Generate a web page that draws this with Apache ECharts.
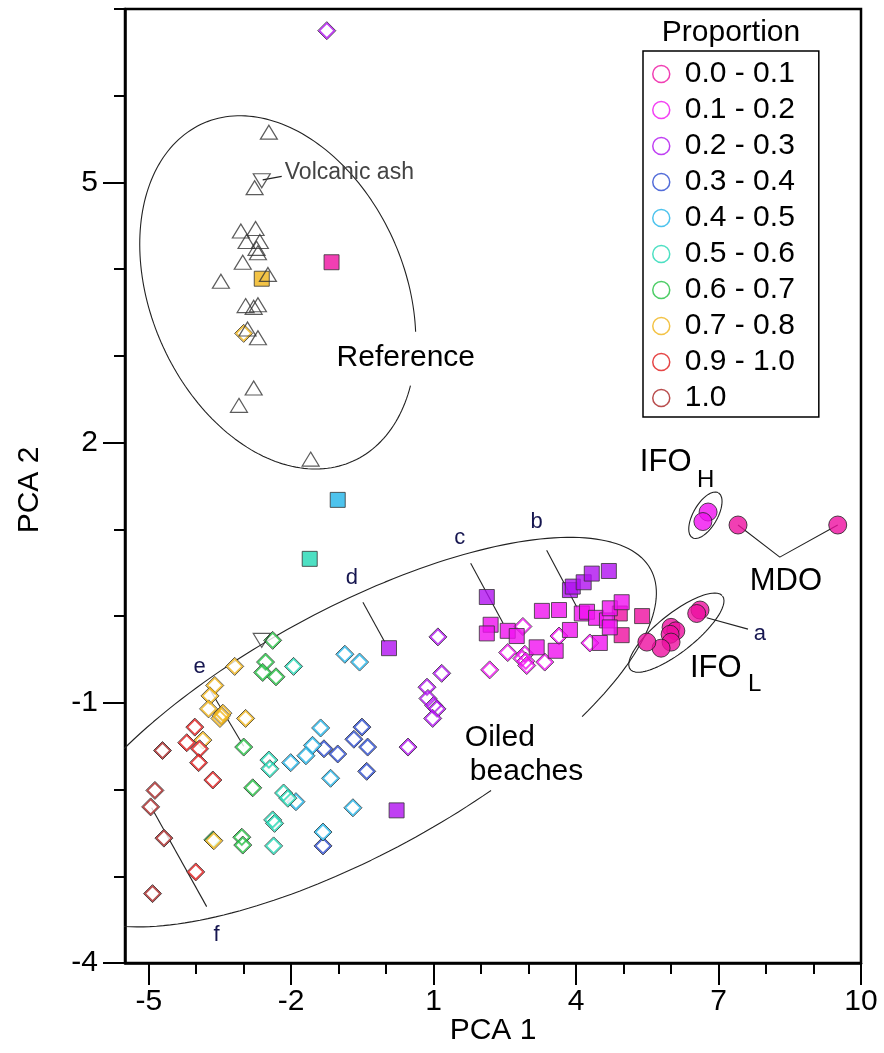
<!DOCTYPE html>
<html><head><meta charset="utf-8">
<script src="https://cdn.jsdelivr.net/npm/echarts@6/dist/echarts.min.js"></script>
<style>html,body{margin:0;padding:0;background:#fff}#c{width:884px;height:1053px}</style>
</head><body><div id="c"></div>
<script>
// ---------- tick values ----------
const xMajorTicks = [-5, -2, 1, 4, 7, 10];
const xMinorTicks = [-4, -3, -1, 0, 2, 3, 5, 6, 8, 9];
const yMajorTicks = [-4, -1, 2, 5];
const yMinorTicks = [-3, -2, 0, 1, 3, 4, 6, 7];

// ---------- proportion classes ----------
const classNames = ['0.0 - 0.1','0.1 - 0.2','0.2 - 0.3','0.3 - 0.4','0.4 - 0.5','0.5 - 0.6','0.6 - 0.7','0.7 - 0.8','0.9 - 1.0','1.0'];
const classColors = ['#EE0FA0','#F010F0','#B010F0','#2848D0','#20B4E8','#20D8B4','#20C040','#F0B418','#E01818','#A82020'];

// ---------- data (PCA1, PCA2) ----------
const circles_c0 = [[7.41,1.05],[9.51,1.05],[6.61,0.07],[6.54,0.03],[6.00,-0.13],[6.10,-0.17],[5.98,-0.21],[6.00,-0.30],[5.79,-0.37],[5.49,-0.30]];
const squares_c0 = [[-1.15,4.08],[4.92,0.03],[4.96,-0.22],[5.39,0.00]];
const circles_c1 = [[6.78,1.20],[6.67,1.09]];
const squares_c1 = [[2.20,-0.10],[2.12,-0.20],[2.56,-0.17],[2.75,-0.23],[3.28,0.06],[3.64,0.07],[4.12,0.03],[4.23,0.05],[4.42,-0.02],[4.65,-0.05],[4.71,0.09],[4.96,0.16],[3.87,-0.16],[3.17,-0.36],[3.57,-0.40],[4.50,-0.31],[4.71,-0.13]];
const diamonds_c1 = [[2.88,-0.12],[2.56,-0.42],[2.92,-0.44],[2.86,-0.49],[2.94,-0.52],[2.96,-0.57],[3.34,-0.53],[3.64,-0.23],[2.18,-0.62],[4.29,-0.31]];
const squares_c2 = [[2.12,0.22],[3.87,0.30],[3.93,0.34],[4.16,0.39],[4.33,0.49],[4.69,0.52],[0.06,-0.37],[0.22,-2.24]];
const diamonds_c2 = [[-1.25,6.75],[1.09,-0.24],[1.17,-0.66],[0.86,-0.82],[0.88,-0.95],[1.00,-1.03],[1.07,-1.07],[0.98,-1.18],[0.46,-1.51]];
const diamonds_c3 = [[-0.51,-1.28],[-0.68,-1.42],[-0.39,-1.51],[-1.31,-1.53],[-1.02,-1.59],[-0.41,-1.79],[-1.33,-2.65]];
const diamonds_c4 = [[-0.87,-0.44],[-0.56,-0.53],[-1.38,-1.29],[-1.55,-1.49],[-1.69,-1.61],[-2.01,-1.69],[-1.17,-1.87],[-1.90,-2.14],[-0.70,-2.21],[-1.33,-2.49]];
const squares_c4 = [[-1.02,1.34]];
const diamonds_c5 = [[-1.95,-0.58],[-2.47,-1.66],[-2.45,-1.76],[-2.16,-2.04],[-2.07,-2.10],[-2.39,-2.35],[-2.35,-2.39],[-2.37,-2.65]];
const squares_c5 = [[-1.61,0.66]];
const diamonds_c6 = [[-2.39,-0.28],[-2.54,-0.53],[-2.60,-0.65],[-2.32,-0.70],[-3.00,-1.51],[-2.81,-1.98],[-3.65,-2.58],[-3.04,-2.55],[-3.02,-2.64]];
const diamonds_c7 = [[-3.19,-0.58],[-3.61,-0.80],[-3.71,-0.92],[-3.74,-1.07],[-3.50,-1.18],[-3.44,-1.12],[-3.47,-1.15],[-2.96,-1.18],[-3.86,-1.43],[-3.63,-2.59],[-3.00,3.26]];
const squares_c7 = [[-2.62,3.89]];
const diamonds_c8 = [[-4.03,-1.28],[-4.20,-1.46],[-3.93,-1.53],[-3.95,-1.69],[-3.65,-1.89],[-4.01,-2.95]];
const diamonds_c9 = [[-4.71,-1.55],[-4.87,-2.01],[-4.96,-2.20],[-4.68,-2.56],[-4.92,-3.20]];
const refTriangles = [[-2.47,5.58],[-2.77,4.94],[-3.06,4.44],[-2.75,4.47],[-2.94,4.32],[-2.66,4.32],[-2.73,4.24],[-2.70,4.19],[-3.02,4.08],[-3.48,3.86],[-2.49,3.94],[-2.96,3.58],[-2.70,3.59],[-2.79,3.56],[-2.92,3.31],[-2.70,3.21],[-2.79,2.63],[-3.10,2.43],[-1.59,1.81]];
const ashTriangles = [[-2.62,5.02],[-2.62,-0.28]];

// ---------- annotation geometry (data units) ----------
const leaderAsh = [[-2.60,5.03],[-2.20,5.07]];
const leaderA = [[6.75,-0.02],[7.62,-0.15]];
const leaderB = [[3.38,0.76],[4.02,0.10]];
const leaderC = [[1.78,0.61],[2.46,-0.08]];
const leaderD = [[-0.49,0.16],[-0.03,-0.30]];
const leaderE = [[-3.71,-0.85],[-3.00,-1.50]];
const leaderF = [[-4.94,-2.21],[-3.78,-3.35]];
const leaderMDO = [[7.41,1.05],[8.29,0.68],[9.51,1.05]];
// ellipse: centre, conjugate semi-axis vectors, drawn arc (degrees)
const ellOiled = {c:[-0.686,-1.338], u:[6.377,1.604], v:[0,-1.572], from:63, to:401};
const ellRef = {c:[-2.2825,3.7324], u:[2.907,-0.5566], v:[0,-1.959], from:16, to:357};
const ellIFOH = {c:[6.723,1.163], u:[0.2739,0.2593], v:[0.2191,-0.0691], from:0, to:360};
const ellIFOL = {c:[6.112,-0.191], u:[0.971,0.424], v:[0.2507,-0.1705], from:0, to:360};

const FONT = '"Liberation Sans", Arial, sans-serif';

function ellPts(e){
  const pts=[]; const n=200;
  for(let k=0;k<=n;k++){
    const t=(e.from+(e.to-e.from)*k/n)*Math.PI/180;
    pts.push([e.c[0]+e.u[0]*Math.cos(t)+e.v[0]*Math.sin(t), e.c[1]+e.u[1]*Math.cos(t)+e.v[1]*Math.sin(t)]);
  }
  return pts;
}

const diamondSets = [null, diamonds_c1, diamonds_c2, diamonds_c3, diamonds_c4, diamonds_c5, diamonds_c6, diamonds_c7, diamonds_c8, diamonds_c9];
const squareSets = [squares_c0, squares_c1, squares_c2, null, squares_c4, squares_c5, null, squares_c7, null, null];
const circleSets = [circles_c0, circles_c1, null, null, null, null, null, null, null, null];

const series = [];
function lineSeries(data, z){
  series.push({type:'line', data, symbol:'none', silent:true, clip:true, z: z||1,
    lineStyle:{color:'#222', width:1.1}, animation:false});
}
[ellPts(ellOiled), ellPts(ellRef), ellPts(ellIFOH), ellPts(ellIFOL)].forEach(d=>lineSeries(d,1));
[leaderAsh, leaderA, leaderB, leaderC, leaderD, leaderE, leaderF, leaderMDO].forEach(d=>lineSeries(d,1));

classNames.forEach((name,i)=>{
  const col = classColors[i];
  if(diamondSets[i]){
    series.push({type:'scatter', name, data:diamondSets[i], symbol:'diamond', symbolSize:18, z:3,
      itemStyle:{color:'#fff', borderColor:'#111', borderWidth:1}, animation:false});
    series.push({type:'scatter', name, data:diamondSets[i], symbol:'diamond', symbolSize:15, z:3,
      itemStyle:{color:'rgba(255,255,255,0)', borderColor:col, borderWidth:1.7}, animation:false});
  }
  if(squareSets[i]){
    series.push({type:'scatter', name, data:squareSets[i], symbol:'rect', symbolSize:15, z:4,
      itemStyle:{color:col, borderColor:'#333', borderWidth:1}, animation:false});
  }
  if(circleSets[i]){
    series.push({type:'scatter', name, data:circleSets[i], symbol:'circle', symbolSize:18, z:4,
      itemStyle:{color:col, borderColor:'#222', borderWidth:1}, animation:false});
  }
});
series.push({type:'scatter', name:'Reference', data:refTriangles, symbol:'triangle', symbolSize:[17,14], z:5,
  itemStyle:{color:'rgba(255,255,255,0)', borderColor:'#333', borderWidth:1.2}, animation:false});
series.push({type:'scatter', name:'Volcanic ash', data:ashTriangles, symbol:'triangle', symbolRotate:180, symbolSize:[17,14], z:5,
  itemStyle:{color:'rgba(255,255,255,0)', borderColor:'#333', borderWidth:1.2}, animation:false});

const chart = echarts.init(document.getElementById('c'), null, {renderer:'canvas'});
const axisCommon = {type:'value', splitLine:{show:false}};
chart.setOption({
  animation:false,
  backgroundColor:'#fff',
  grid:{left:125, right:23, top:9, bottom:90, show:true, borderColor:'#000', borderWidth:2.5, backgroundColor:'transparent'},
  xAxis:[
    Object.assign({}, axisCommon, {min:-5.5, max:10, position:'bottom',
      axisLine:{show:true, onZero:false, lineStyle:{color:'#000', width:2.5}},
      axisTick:{show:true, length:22, lineStyle:{color:'#000', width:2}, customValues:xMajorTicks},
      axisLabel:{show:true, customValues:xMajorTicks, fontSize:30, fontFamily:FONT, color:'#000', margin:24}}),
    Object.assign({}, axisCommon, {min:-5.5, max:10, position:'bottom', offset:0,
      axisLine:{show:false, onZero:false},
      axisTick:{show:true, length:11, lineStyle:{color:'#000', width:2}, customValues:xMinorTicks},
      axisLabel:{show:false}})
  ],
  yAxis:[
    Object.assign({}, axisCommon, {min:-4, max:7, position:'left',
      axisLine:{show:true, onZero:false, lineStyle:{color:'#000', width:2.5}},
      axisTick:{show:true, length:22, lineStyle:{color:'#000', width:2}, customValues:yMajorTicks},
      axisLabel:{show:true, customValues:yMajorTicks, fontSize:30, fontFamily:FONT, color:'#000', margin:27}}),
    Object.assign({}, axisCommon, {min:-4, max:7, position:'left', offset:0,
      axisLine:{show:false, onZero:false},
      axisTick:{show:true, length:11, lineStyle:{color:'#000', width:2}, customValues:yMinorTicks},
      axisLabel:{show:false}})
  ],
  legend:{
    orient:'vertical', left:643, top:51, icon:'circle', itemWidth:17, itemHeight:17, itemGap:6,
    padding:[8,24,4,9], borderColor:'#000', borderWidth:1.5, backgroundColor:'#fff', selectedMode:false,
    textStyle:{fontSize:30, fontFamily:FONT, color:'#000', lineHeight:30, padding:[0,0,0,10]},
    data:classNames.map((n,i)=>({name:n, itemStyle:{color:'#fff', borderColor:classColors[i], borderWidth:1.5}}))
  },
  series
});

// text annotations anchored in data coordinates
const textLabels = [
  {t:'Volcanic ash', p:[-2.135,5.115], s:23, c:'#444', a:'left'},
  {t:'Reference', p:[0.414,2.98], s:30, c:'#000', a:'center'},
  {t:'Oiled', p:[1.657,-1.407], s:30, c:'#000', a:'left'},
  {t:'beaches', p:[1.762,-1.799], s:30, c:'#000', a:'left'},
  {t:'IFO', p:[5.343,1.774], s:31, c:'#000', a:'left'},
  {t:'H', p:[6.544,1.566], s:24, c:'#000', a:'left'},
  {t:'IFO', p:[6.397,-0.600], s:31, c:'#000', a:'left'},
  {t:'L', p:[7.618,-0.785], s:24, c:'#000', a:'left'},
  {t:'MDO', p:[8.419,0.402], s:31, c:'#000', a:'center'},
  {t:'a', p:[7.87,-0.21], s:22, c:'#161650', a:'center'},
  {t:'b', p:[3.17,1.08], s:22, c:'#161650', a:'center'},
  {t:'c', p:[1.55,0.90], s:22, c:'#161650', a:'center'},
  {t:'d', p:[-0.72,0.44], s:22, c:'#161650', a:'center'},
  {t:'e', p:[-3.93,-0.59], s:22, c:'#161650', a:'center'},
  {t:'f', p:[-3.57,-3.68], s:22, c:'#161650', a:'center'}
];
const graphic = textLabels.map(l=>{
  const px = chart.convertToPixel({xAxisIndex:0, yAxisIndex:0}, l.p);
  return {type:'text', x:px[0], y:px[1], z:10, silent:true,
    style:{text:l.t, fontSize:l.s, fontFamily:FONT, fill:l.c, textAlign:l.a, textVerticalAlign:'middle', align:l.a, verticalAlign:'middle'}};
});
graphic.push({type:'text', x:731, y:33, z:10, style:{text:'Proportion', fontSize:30, fontFamily:FONT, fill:'#000', textAlign:'center', textVerticalAlign:'middle', align:'center', verticalAlign:'middle'}});
graphic.push({type:'text', x:493, y:1031, z:10, style:{text:'PCA 1', fontSize:30, fontFamily:FONT, fill:'#000', textAlign:'center', textVerticalAlign:'middle', align:'center', verticalAlign:'middle'}});
graphic.push({type:'text', x:30, y:490, rotation:Math.PI/2, z:10, style:{text:'PCA 2', fontSize:30, fontFamily:FONT, fill:'#000', textAlign:'center', textVerticalAlign:'middle', align:'center', verticalAlign:'middle'}});
chart.setOption({graphic});
</script>
</body></html>
